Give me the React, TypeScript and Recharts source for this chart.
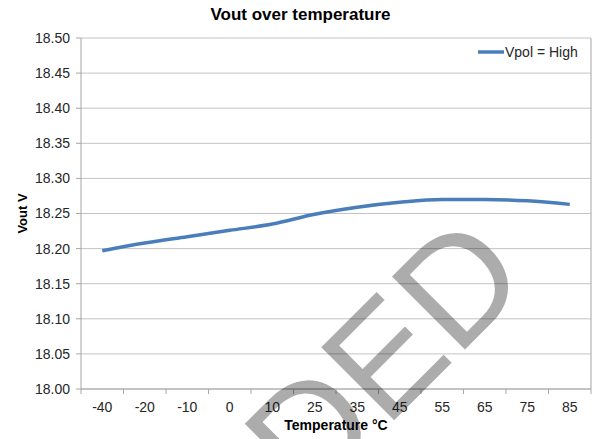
import React from 'react';
import { LineChart, Line, XAxis, YAxis, CartesianGrid, Legend } from 'recharts';

const temperatures = ['-40', '-20', '-10', '0', '10', '25', '35', '45', '55', '65', '75', '85'];
const voutHigh = [18.197, 18.208, 18.217, 18.226, 18.235, 18.249, 18.259, 18.266, 18.27, 18.27, 18.268, 18.263];
const yTicks = [18.0, 18.05, 18.1, 18.15, 18.2, 18.25, 18.3, 18.35, 18.4, 18.45, 18.5];
const seriesName = 'Vpol = High';
const chartTitle = 'Vout over temperature';
const xTitle = 'Temperature °C';
const yTitle = 'Vout V';
const watermark = 'DED';

const W = 597;
const H = 439;
const TOP = 38;
const Y_AXIS_W = 81;
const RIGHT_W = 6;
const X_AXIS_H = 50;
const PLOT_W = W - Y_AXIS_W - RIGHT_W;
const PLOT_H = H - TOP - X_AXIS_H;
const BAND = PLOT_W / temperatures.length;

const FONT = '"Liberation Sans", Arial, sans-serif';
const TEXT = '#262626';
const AXIS = '#a6a6a6';
const GRID = '#c4c4c4';
const BLUE = '#4a7ebb';

const data = temperatures.map((t, i) => ({ t, v: voutHigh[i] }));

const XTick = (props: any) => {
  const { x, y, payload, index } = props;
  const last = index === temperatures.length - 1;
  return (
    <g>
      <line x1={x - BAND / 2} x2={x - BAND / 2} y1={y} y2={y + 5} stroke={AXIS} />
      {last && <line x1={x + BAND / 2} x2={x + BAND / 2} y1={y} y2={y + 5} stroke={AXIS} />}
      <text x={x} y={y + 23} textAnchor="middle" fontSize={14} fill={TEXT} fontFamily={FONT}>
        {payload.value}
      </text>
    </g>
  );
};

const LegendContent = () => (
  <svg width={120} height={20}>
    <line x1={2} x2={28} y1={9} y2={9} stroke={BLUE} strokeWidth={3.5} />
    <text x={29} y={14} fontSize={14} fill={TEXT} fontFamily={FONT}>
      {seriesName}
    </text>
  </svg>
);

export default function App() {
  return (
    <div style={{ position: 'absolute', left: 0, top: 0, width: W, height: H, background: '#fff' }}>
      <LineChart width={W} height={H} data={data} margin={{ top: TOP, right: 0, bottom: 0, left: 0 }}>
        <CartesianGrid horizontal vertical={false} stroke={GRID} />
        <XAxis
          dataKey="t"
          height={X_AXIS_H}
          padding={{ left: BAND / 2, right: BAND / 2 }}
          tickSize={0}
          tickMargin={0}
          tickLine={false}
          axisLine={{ stroke: AXIS }}
          tick={<XTick />}
          interval={0}
        />
        <YAxis
          width={Y_AXIS_W}
          domain={[18, 18.5]}
          ticks={yTicks}
          tickFormatter={(v: number) => v.toFixed(2)}
          tickSize={5}
          tickMargin={6}
          tickLine={{ stroke: AXIS }}
          axisLine={{ stroke: AXIS }}
          tick={{ fontSize: 14, fill: TEXT, fontFamily: FONT }}
          interval={0}
        />
        <YAxis
          yAxisId="r"
          orientation="right"
          width={RIGHT_W}
          domain={[18, 18.5]}
          tick={false}
          tickLine={false}
          axisLine={{ stroke: AXIS }}
        />
        <Legend
          layout="vertical"
          align="center"
          verticalAlign="middle"
          content={<LegendContent />}
          wrapperStyle={{ left: 476, top: 43, width: 120, height: 20 }}
        />
        <Line
          type="monotone"
          dataKey="v"
          name={seriesName}
          stroke={BLUE}
          strokeWidth={3.5}
          dot={false}
          activeDot={false}
          isAnimationActive={false}
        />
      </LineChart>
      <svg
        width={W}
        height={H}
        style={{ position: 'absolute', left: 0, top: 0, pointerEvents: 'none' }}
      >
        <text x={W / 2 + 2} y={20} textAnchor="middle" fontSize={17} fontWeight="bold" fill="#000" fontFamily={FONT}>
          {chartTitle}
        </text>
        <text
          x={0}
          y={0}
          transform={`translate(27, ${TOP + PLOT_H / 2}) rotate(-90)`}
          textAnchor="middle"
          fontSize={13}
          fontWeight="bold"
          fill="#000"
          fontFamily={FONT}
        >
          {yTitle}
        </text>
        <text x={Y_AXIS_W + PLOT_W / 2} y={430} textAnchor="middle" fontSize={14} fontWeight="bold" fill="#000" fontFamily={FONT}>
          {xTitle}
        </text>
        <g transform="rotate(-45)">
          <text x={-139} y={576} fontSize={150} fill="#000" opacity={0.32} fontFamily={FONT}>
            {watermark}
          </text>
        </g>
      </svg>
    </div>
  );
}
